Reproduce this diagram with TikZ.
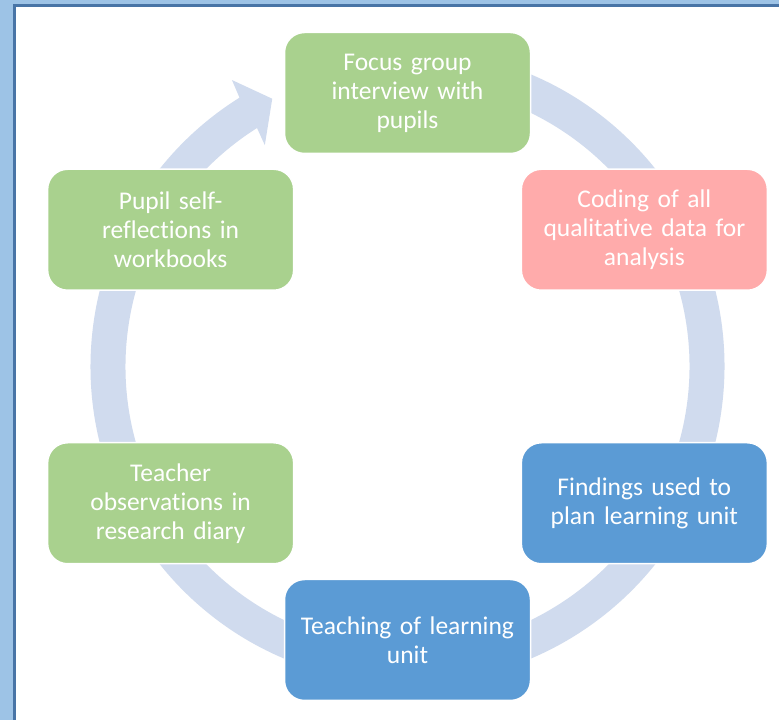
\documentclass[tikz,border=0pt]{standalone}
\usepackage{fontspec}
\setmainfont{Carlito}[Ligatures={NoCommon,NoRare}]
\usepackage{tikz}

\definecolor{framelight}{RGB}{157,195,230}
\definecolor{framedark}{RGB}{72,116,166}
\definecolor{ringblue}{RGB}{208,219,238}
\definecolor{stagegreen}{RGB}{169,209,142}
\definecolor{stagepink}{RGB}{255,171,171}
\definecolor{stageblue}{RGB}{91,155,213}

\begin{document}
\begin{tikzpicture}[x=1pt, y=1pt,
        stage/.style={rectangle, rounded corners=20pt, draw=white, line width=1.5pt,
            minimum width=246pt, minimum height=121pt, text width=230pt, align=center,
            text=white, font=\fontsize{25.5}{29}\selectfont},
    ]
        \clip (0,0) rectangle (779,720);
        \fill[framelight] (0,0) rectangle (779,720);
        \filldraw[fill=white, draw=framedark, line width=2.5pt] (14.5,-20) rectangle (800,714.5);

        % ring with its arrow head, drawn round the centre of the cycle
        \begin{scope}[shift={(407.5,353.5)}]
            \fill[ringblue] (85:317) arc[start angle=85, end angle=-238, radius=317]
                -- (121.5:336) -- (116.8:300) -- (122.8:263.4) -- (122.25:282)
                arc[start angle=-237.75, end angle=85, radius=282] -- cycle;

            \node[stage, fill=stagegreen] (focus)    at (90:273.5)  {Focus group\\interview with\\pupils};
            \node[stage, fill=stagepink]  (coding)   at (30:273.5)  {Coding of all\\qualitative data for\\analysis};
            \node[stage, fill=stageblue]  (findings) at (-30:273.5) {Findings used to\\plan learning unit};
            \node[stage, fill=stageblue]  (teaching) at (-90:273.5) {Teaching of learning\\unit};
            \node[stage, fill=stagegreen] (teacher)  at (-150:273.5) {Teacher\\observations in\\research diary};
            \node[stage, fill=stagegreen] (pupil)    at (150:273.5) {Pupil self-\\reflections in\\workbooks};
        \end{scope}
    \end{tikzpicture}
\end{document}
